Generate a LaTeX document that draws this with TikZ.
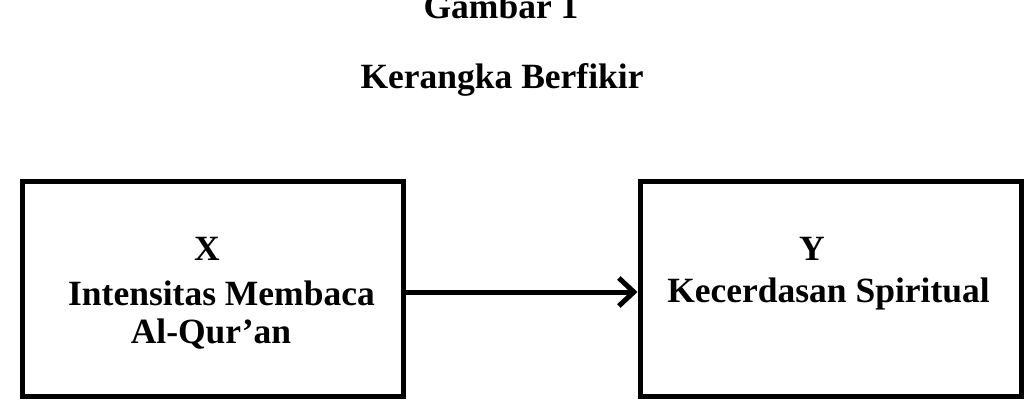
\documentclass[tikz,border=0pt]{standalone}
\usepackage{fontspec}
\setmainfont{Liberation Serif}
\usetikzlibrary{arrows.meta}
\begin{document}
\begin{tikzpicture}[x=1pt,y=-1pt,
  box/.style={draw,line width=5pt,rectangle,minimum width=381pt,minimum height=215pt,inner sep=0pt},
  txt/.style={anchor=base,inner sep=0pt,font=\fontsize{35.5}{41}\selectfont\bfseries},
  conn/.style={line width=5pt,-{Straight Barb[length=15pt,width=28pt]}}]
\useasboundingbox (0,0) rectangle (1029,415);
\node[txt] (t1) at (501,18) {Gambar 1};
\node[txt] (t2) at (502,88) {Kerangka Berfikir};
\node[box] (L) at (212.5,288.5) {};
\node[box] (R) at (830.5,288.5) {};
\node[txt] (lx) at (207,260) {X};
\node[txt] (l1) at (221.5,305) {Intensitas Membaca};
\node[txt] (l2) at (211,343) {Al-Qur’an};
\node[txt] (ry) at (812,260) {Y};
\node[txt] (r1) at (828.5,302) {Kecerdasan Spiritual};
\draw[conn] ([yshift=-3.5pt]L.east) -- ([yshift=-3.5pt]R.west);
\end{tikzpicture}
\end{document}
